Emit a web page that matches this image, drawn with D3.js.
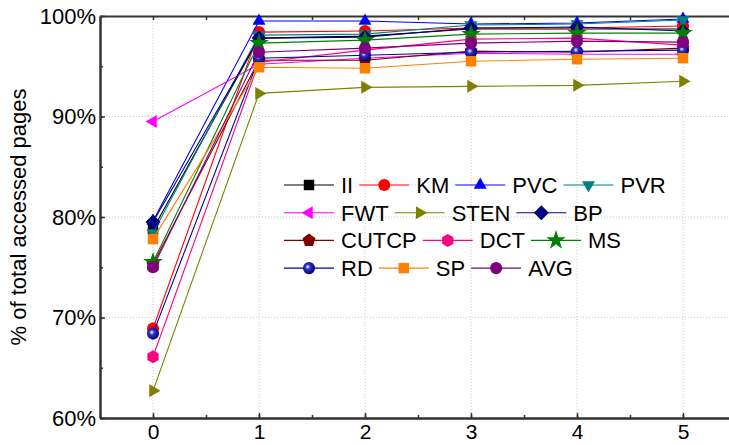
<!DOCTYPE html>
<html>
<head>
<meta charset="utf-8">
<script src="https://cdn.jsdelivr.net/npm/d3@7"></script>
<style>
  body { margin: 0; background: #fff; }
  svg { display: block; font-family: "Liberation Sans", Arial, sans-serif; }
</style>
</head>
<body>
<svg></svg>
<script>
// data
const steps = [0, 1, 2, 3, 4, 5];
const yTicks = [60, 70, 80, 90, 100];

const seriesNames = ['II', 'KM', 'PVC', 'PVR', 'FWT', 'STEN', 'BP', 'CUTCP', 'DCT', 'MS', 'RD', 'SP', 'AVG'];
const II    = [78.8, 97.8, 98.0, 98.7, 98.7, 98.7];
const KM    = [68.9, 98.4, 98.5, 98.8, 98.8, 99.0];
const PVC   = [79.6, 99.5, 99.5, 99.2, 99.3, 99.7];
const PVR   = [78.4, 98.1, 98.2, 99.1, 99.2, 99.6];
const FWT   = [89.5, 95.2, 95.8, 96.3, 96.2, 96.2];
const STEN  = [62.7, 92.3, 92.9, 93.0, 93.1, 93.5];
const BP    = [79.5, 97.8, 97.9, 98.8, 98.9, 98.5];
const CUTCP = [75.3, 95.6, 95.6, 96.5, 96.4, 96.8];
const DCT   = [66.1, 95.4, 96.6, 97.7, 97.8, 97.1];
const MS    = [75.5, 97.3, 97.6, 98.2, 98.3, 98.3];
const RD    = [68.4, 95.8, 96.1, 96.4, 96.5, 96.6];
const SP    = [77.8, 94.9, 94.8, 95.5, 95.7, 95.8];
const AVG   = [75.0, 96.4, 96.8, 97.3, 97.5, 97.4];
const seriesValues = [II, KM, PVC, PVR, FWT, STEN, BP, CUTCP, DCT, MS, RD, SP, AVG];

// styles
const colors = ['#000000', '#ff0000', '#0000ff', '#008080', '#ff00ff', '#808000', '#000080',
                '#800000', '#ff0080', '#008000', '#0000a0', '#ff8000', '#800080'];
const shapes = ['square', 'circle', 'up', 'down', 'left', 'right', 'diamond',
                'pentagon', 'hexagon', 'star', 'sphere', 'square', 'circle'];

const W = 729, H = 445;
const margin = { top: 16, left: 100, bottom: 27 };
const plotW = 636, plotH = H - margin.top - margin.bottom;
const fontSize = 22;

const svg = d3.select('svg').attr('width', W).attr('height', H);

// gradient for RD sphere marker
const grad = svg.append('defs').append('radialGradient')
    .attr('id', 'sphere').attr('cx', '40%').attr('cy', '40%').attr('r', '60%');
grad.append('stop').attr('offset', '0%').attr('stop-color', '#ffffff');
grad.append('stop').attr('offset', '35%').attr('stop-color', '#3030c0');
grad.append('stop').attr('offset', '100%').attr('stop-color', '#000080');

const g = svg.append('g').attr('transform', `translate(${margin.left},${margin.top})`);

const x = d3.scaleLinear().domain([-0.5, 5.5]).range([0, plotW]);
const y = d3.scaleLinear().domain([60, 100]).range([plotH, 0]);

// grid
g.append('g').selectAll('line').data(steps).join('line')
    .attr('x1', d => x(d)).attr('x2', d => x(d))
    .attr('y1', 0).attr('y2', plotH)
    .attr('stroke', '#c8c8c8').attr('stroke-dasharray', '1,2');
g.append('g').selectAll('line').data(yTicks.slice(1, -1)).join('line')
    .attr('x1', 0).attr('x2', plotW)
    .attr('y1', d => y(d)).attr('y2', d => y(d))
    .attr('stroke', '#c8c8c8').attr('stroke-dasharray', '1,2');

// axes
function styleAxis(sel, size) {
    sel.select('.domain').attr('stroke', '#333').attr('stroke-width', 2);
    sel.selectAll('.tick line').attr('stroke', '#333').attr('stroke-width', 1.5);
    sel.selectAll('text').attr('font-size', size || fontSize).attr('fill', '#000')
        .attr('font-family', '"Liberation Sans", Arial, sans-serif');
}

const xMinor = d3.range(-0.5, 5.6, 0.5);
const yMinor = d3.range(60, 100.1, 5);

g.append('g').attr('transform', `translate(0,${plotH})`)
    .call(d3.axisBottom(x).tickValues(xMinor).tickSize(-3).tickFormat('').tickSizeOuter(0)).call(styleAxis);
g.append('g').attr('transform', `translate(0,${plotH})`)
    .call(d3.axisBottom(x).tickValues(steps).tickSize(-5).tickSizeOuter(0).tickPadding(6).tickFormat(d3.format('d')))
    .call(styleAxis, 21);
g.append('g')
    .call(d3.axisTop(x).tickValues(xMinor).tickSize(-4).tickFormat('').tickSizeOuter(0)).call(styleAxis);
g.append('g')
    .call(d3.axisLeft(y).tickValues(yMinor).tickSize(-3).tickFormat('').tickSizeOuter(0)).call(styleAxis);
g.append('g')
    .call(d3.axisLeft(y).tickValues(yTicks).tickSize(-5).tickSizeOuter(0).tickPadding(4).tickFormat(d => d + '%'))
    .call(styleAxis);

// y axis title
svg.append('text')
    .attr('transform', `translate(26,${margin.top + plotH / 2}) rotate(-90)`)
    .attr('text-anchor', 'middle')
    .attr('font-size', fontSize)
    .text('% of total accessed pages');

// markers
function triPath(s, angle) {
    const pts = [0, 1, 2].map(i => {
        const a = angle + i * 2 * Math.PI / 3;
        return [s * Math.cos(a), s * Math.sin(a)];
    });
    return 'M' + pts.map(p => p.join(',')).join('L') + 'Z';
}
function polyPath(n, r, offset) {
    const pts = d3.range(n).map(i => {
        const a = offset + i * 2 * Math.PI / n;
        return [r * Math.cos(a), r * Math.sin(a)];
    });
    return 'M' + pts.map(p => p.join(',')).join('L') + 'Z';
}
function drawMarker(sel, shape, color) {
    let p;
    if (shape === 'square') p = d3.symbol(d3.symbolSquare, 110)();
    else if (shape === 'circle' || shape === 'sphere') p = d3.symbol(d3.symbolCircle, 115)();
    else if (shape === 'up') p = triPath(7.5, -Math.PI / 2);
    else if (shape === 'down') p = triPath(7.5, Math.PI / 2);
    else if (shape === 'left') p = triPath(7.5, Math.PI);
    else if (shape === 'right') p = triPath(7.5, 0);
    else if (shape === 'diamond') p = polyPath(4, 7.5, 0);
    else if (shape === 'pentagon') p = polyPath(5, 6.8, -Math.PI / 2);
    else if (shape === 'hexagon') p = polyPath(6, 6.5, -Math.PI / 2);
    else if (shape === 'star') p = d3.symbol(d3.symbolStar, 120)();
    sel.append('path').attr('d', p)
        .attr('fill', shape === 'sphere' ? 'url(#sphere)' : color);
}

// series lines and markers
const line = d3.line().x((d, i) => x(steps[i])).y(d => y(d));
seriesNames.forEach((name, k) => {
    const sg = g.append('g').attr('class', 'series');
    sg.append('path').datum(seriesValues[k])
        .attr('d', line).attr('fill', 'none')
        .attr('stroke', colors[k]).attr('stroke-width', 1.1);
    seriesValues[k].forEach((v, i) => {
        sg.append('g').attr('transform', `translate(${x(steps[i])},${y(v)})`)
            .call(drawMarker, shapes[k], colors[k]);
    });
});

// legend
const legendRows = [[0, 1, 2, 3], [4, 5, 6], [7, 8, 9], [10, 11, 12]];
const legend = svg.append('g');
legendRows.forEach((row, r) => {
    let cx = 284;
    const ly = 185 + r * 27.7;
    row.forEach(k => {
        const item = legend.append('g').attr('transform', `translate(${cx},${ly})`);
        item.append('line').attr('x1', 0).attr('x2', 50).attr('y1', 0).attr('y2', 0)
            .attr('stroke', colors[k]).attr('stroke-width', 1.1);
        item.append('g').attr('transform', 'translate(25,0)').call(drawMarker, shapes[k], colors[k]);
        const t = item.append('text').attr('x', 57).attr('y', 8)
            .attr('font-size', fontSize).text(seriesNames[k]);
        cx += 57 + t.node().getComputedTextLength() + 6;
    });
});
</script>
</body>
</html>
